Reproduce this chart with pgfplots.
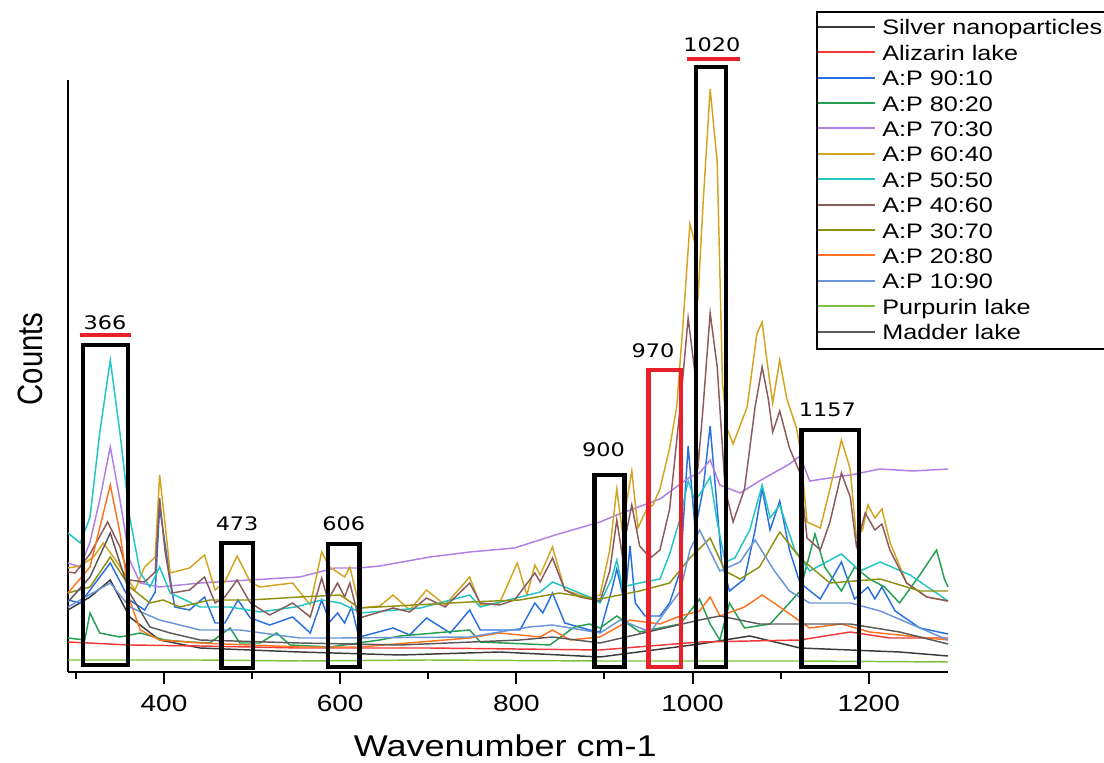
\documentclass[border=0pt]{standalone}
\usepackage{pgfplots}
\pgfplotsset{compat=1.18}
\usepackage{fontspec}
\setmainfont{Liberation Sans}[FakeStretch=1.2]
\newfontfamily\plainfont{Liberation Sans}
\newfontfamily\annfont{DejaVu Sans}[FakeStretch=1.2]
\definecolor{colSil}{HTML}{3A3A3A}
\definecolor{colAli}{HTML}{F03A3A}
\definecolor{colNinety}{HTML}{2A6FE0}
\definecolor{colEighty}{HTML}{22A050}
\definecolor{colSeventy}{HTML}{B07FE6}
\definecolor{colSixty}{HTML}{D4A320}
\definecolor{colFifty}{HTML}{22C4C4}
\definecolor{colForty}{HTML}{8B5A5A}
\definecolor{colThirty}{HTML}{8F8F10}
\definecolor{colTwenty}{HTML}{FF7320}
\definecolor{colTen}{HTML}{6A96D8}
\definecolor{colPur}{HTML}{7CC23A}
\definecolor{colMad}{HTML}{5A5A5A}
\definecolor{colRed}{HTML}{E8202A}
\begin{document}
\begin{tikzpicture}
\path[use as bounding box, clip] (0,0) rectangle (828pt,572.25pt);
\begin{axis}[
  at={(51pt,68.25pt)}, anchor=south west,
  scale only axis, width=660pt, height=444pt,
  xmin=291, xmax=1290, ymin=0, ymax=592,
  clip=false,
  axis x line=bottom, axis y line=left,
  axis line style={-, line width=2pt, black},
  every outer x axis line/.append style={-},
  every outer y axis line/.append style={-},
  ytick=\empty,
  xtick={400,600,...,1200},
  minor xtick={300,500,...,1100},
  tick align=outside,
  major tick length=9pt, minor tick length=5pt,
  tick style={line width=1.5pt, black},
  /pgf/number format/assume math mode=true,
  /pgf/number format/1000 sep={},
  xticklabel style={font=\fontsize{17.5pt}{20pt}\selectfont, yshift=-5pt},
  every axis plot/.append style={line width=1.1pt, no marks, sharp plot},
]
% Silver nanoparticles
\addplot[color=colSil] coordinates {(291,62) (316,75) (339,92) (361,55) (395,32) (441,24) (554,20) (668,17) (781,20) (895,15) (1008,28) (1065,36) (1122,24) (1235,20) (1290,16)};
% Alizarin lake
\addplot[color=colAli] coordinates {(291,30) (361,27) (441,26) (554,24) (700,24) (800,23) (895,22) (1008,30) (1122,32) (1179,40) (1224,34) (1290,34)};
% A:P 90:10
\addplot[color=colNinety] coordinates {(291,72) (305,69) (339,109) (361,72) (378,62) (390,80) (395,165) (405,105) (412,65) (429,62) (446,75) (458,49) (469,49) (484,72) (498,54) (520,47) (546,55) (566,39) (579,72) (588,50) (597,59) (605,49) (613,65) (620,39) (622,35) (660,44) (679,37) (698,54) (725,39) (747,62) (759,42) (804,42) (821,69) (830,59) (841,79) (855,49) (883,42) (895,40) (908,81) (914,103) (923,69) (929,126) (935,69) (946,56) (963,56) (974,69) (986,101) (995,226) (1003,142) (1012,183) (1020,246) (1028,163) (1033,110) (1042,81) (1059,93) (1071,142) (1079,183) (1088,142) (1099,171) (1110,122) (1122,89) (1145,73) (1169,110) (1184,73) (1199,85) (1207,73) (1215,85) (1230,61) (1258,44) (1290,38)};
% A:P 80:20
\addplot[color=colEighty] coordinates {(291,34) (310,32) (316,59) (327,39) (350,35) (373,39) (401,32) (429,30) (452,29) (475,44) (486,29) (509,29) (528,39) (543,27) (588,25) (645,32) (668,36) (747,42) (759,30) (838,27) (866,45) (883,48) (895,44) (914,56) (940,40) (986,48) (1008,73) (1020,48) (1031,32) (1042,69) (1059,44) (1088,48) (1110,69) (1122,81) (1139,138) (1150,105) (1169,81) (1184,105) (1201,93) (1218,85) (1235,69) (1258,97) (1277,122) (1286,93) (1290,85)};
% A:P 70:30
\addplot[color=colSeventy] coordinates {(291,109) (305,105) (316,130) (327,172) (339,225) (350,172) (361,112) (373,89) (395,85) (441,89) (498,92) (554,95) (594,104) (622,104) (645,106) (702,115) (747,120) (798,124) (844,137) (895,150) (914,157) (963,173) (997,195) (1008,199) (1020,212) (1031,187) (1054,179) (1076,191) (1110,208) (1122,216) (1133,191) (1179,197) (1213,203) (1250,201) (1290,203)};
% A:P 60:40
\addplot[color=colSixty] coordinates {(291,104) (305,106) (320,115) (331,129) (345,112) (367,82) (378,105) (390,115) (395,197) (401,150) (407,99) (429,104) (446,117) (458,82) (469,90) (483,116) (498,90) (509,85) (546,89) (566,67) (579,120) (588,105) (605,95) (611,105) (620,72) (622,64) (645,66) (660,77) (679,62) (698,82) (719,67) (747,95) (759,67) (781,69) (801,109) (812,77) (821,107) (827,97) (841,125) (855,82) (872,77) (883,74) (895,77) (906,122) (914,183) (920,142) (931,201) (938,144) (948,163) (955,167) (963,183) (974,224) (982,265) (989,346) (997,448) (1003,428) (1006,371) (1012,469) (1020,583) (1028,510) (1034,289) (1039,244) (1046,228) (1062,265) (1073,338) (1079,350) (1086,301) (1091,269) (1099,312) (1107,273) (1118,244) (1122,224) (1130,150) (1145,144) (1156,183) (1169,232) (1179,203) (1186,134) (1193,142) (1199,167) (1207,154) (1215,163) (1224,130) (1243,89) (1266,75) (1290,71)};
% A:P 50:50
\addplot[color=colFifty] coordinates {(291,139) (305,129) (316,155) (327,239) (339,312) (350,239) (361,155) (373,99) (384,85) (395,105) (407,79) (441,65) (475,65) (509,60) (549,65) (579,72) (600,69) (617,62) (622,59) (691,64) (747,77) (759,65) (827,80) (841,90) (883,75) (895,69) (908,93) (914,112) (920,85) (940,89) (963,93) (974,118) (986,154) (995,191) (1003,171) (1012,183) (1020,195) (1028,150) (1037,110) (1048,114) (1065,142) (1079,187) (1088,154) (1099,167) (1116,122) (1133,101) (1169,118) (1190,101) (1213,110) (1247,97) (1290,71)};
% A:P 40:60
\addplot[color=colForty] coordinates {(291,100) (299,99) (316,118) (336,150) (350,125) (361,92) (378,90) (390,100) (395,174) (401,122) (409,79) (429,82) (446,95) (458,69) (469,75) (483,92) (498,69) (520,57) (546,69) (566,55) (579,94) (586,72) (597,89) (605,75) (611,89) (620,57) (622,54) (660,64) (679,60) (698,74) (719,65) (747,89) (759,69) (781,67) (798,72) (821,99) (827,90) (841,114) (855,82) (872,75) (889,72) (895,71) (906,101) (914,152) (920,118) (931,167) (940,126) (952,114) (963,122) (974,163) (986,265) (995,354) (1003,297) (1006,203) (1012,265) (1020,359) (1028,305) (1037,183) (1046,150) (1059,183) (1071,265) (1079,305) (1086,273) (1091,240) (1099,261) (1110,224) (1122,199) (1130,134) (1145,122) (1156,150) (1169,199) (1179,175) (1186,126) (1196,159) (1207,142) (1215,148) (1224,122) (1243,89) (1266,75) (1290,71)};
% A:P 30:70
\addplot[color=colThirty] coordinates {(291,79) (316,85) (339,115) (361,85) (384,69) (399,72) (418,65) (452,72) (498,72) (554,75) (600,77) (622,64) (747,70) (804,72) (849,79) (883,74) (895,73) (940,81) (974,89) (997,114) (1020,134) (1037,101) (1054,93) (1076,105) (1099,140) (1122,114) (1156,89) (1213,93) (1258,81) (1290,81)};
% A:P 20:80
\addplot[color=colTwenty] coordinates {(291,79) (316,105) (339,187) (350,139) (361,72) (373,42) (395,32) (441,29) (554,25) (622,25) (747,34) (781,39) (827,35) (841,42) (861,32) (895,35) (929,52) (963,48) (986,56) (1008,61) (1020,75) (1031,56) (1059,65) (1079,77) (1099,65) (1133,44) (1169,48) (1201,40) (1290,32)};
% A:P 10:90
\addplot[color=colTen] coordinates {(291,65) (339,89) (361,65) (395,52) (441,42) (486,42) (554,34) (600,34) (747,35) (815,45) (841,47) (895,39) (918,52) (952,40) (986,81) (997,122) (1008,142) (1031,101) (1054,110) (1071,132) (1093,101) (1110,81) (1133,69) (1179,69) (1213,61) (1290,32)};
% Purpurin lake
\addplot[color=colPur] coordinates {(291,12) (441,12) (554,11) (700,12) (895,11) (1122,11) (1290,10)};
% Madder lake
\addplot[color=colMad] coordinates {(291,70) (316,95) (339,139) (361,79) (384,45) (407,39) (441,32) (554,29) (668,27) (804,32) (841,35) (895,29) (1008,52) (1031,56) (1076,48) (1122,48) (1179,48) (1235,40) (1290,28)};
% annotation boxes
\draw[line width=3.5pt, black] (axis cs:308,7) rectangle (axis cs:359,327);
\draw[line width=3.5pt, black] (axis cs:465,4) rectangle (axis cs:501,129);
\draw[line width=3.5pt, black] (axis cs:586,5) rectangle (axis cs:622,128);
\draw[line width=3.5pt, black] (axis cs:889,5) rectangle (axis cs:923,197);
\draw[line width=3.5pt, colRed] (axis cs:950,5) rectangle (axis cs:987,302);
\draw[line width=3.5pt, black] (axis cs:1004,5) rectangle (axis cs:1038,605);
\draw[line width=3.5pt, black] (axis cs:1124,5) rectangle (axis cs:1189,242);
\draw[line width=3pt, colRed] (axis cs:305,337) -- (axis cs:363,337);
\draw[line width=3pt, colRed] (axis cs:994,613) -- (axis cs:1054,613);
\begin{scope}[every node/.style={font=\annfont\fontsize{14pt}{16pt}\selectfont, inner sep=0pt}]
\node at (axis cs:333,349) {366};
\node at (axis cs:483,148) {473};
\node at (axis cs:604,148) {606};
\node at (axis cs:899,222) {900};
\node at (axis cs:955,321) {970};
\node at (axis cs:1022,627) {1020};
\node at (axis cs:1153,262) {1157};
\end{scope}
\node[anchor=base, inner sep=0pt, font=\fontsize{22.5pt}{26pt}\selectfont] at (axis description cs:0.497,-0.1419) {Wavenumber cm-1};
\node[rotate=90, anchor=base, inner sep=0pt, font=\plainfont\fontsize{22pt}{26pt}\selectfont] at (axis description cs:-0.0295,0.529) {\scalebox{1}[1.2]{Counts}};
\end{axis}
% legend
\draw[black, line width=1pt] (612.75pt,310.5pt) rectangle (840pt,563.25pt);
\foreach \c/\t [count=\k from 0] in {colSil/Silver nanoparticles, colAli/Alizarin lake, colNinety/A:P 90:10, colEighty/A:P 80:20, colSeventy/A:P 70:30, colSixty/A:P 60:40, colFifty/A:P 50:50, colForty/A:P 40:60, colThirty/A:P 30:70, colTwenty/A:P 20:80, colTen/A:P 10:90, colPur/Purpurin lake, colMad/Madder lake} {
  \draw[color=\c, line width=1.5pt] (613.5pt,{552.2pt-\k*19.05pt}) -- (656.25pt,{552.2pt-\k*19.05pt});
  \node[anchor=base west, inner sep=0pt, font=\fontsize{15.75pt}{19pt}\selectfont] at (661.5pt,{546pt-\k*19.05pt}) {\t};
}
\end{tikzpicture}
\end{document}
